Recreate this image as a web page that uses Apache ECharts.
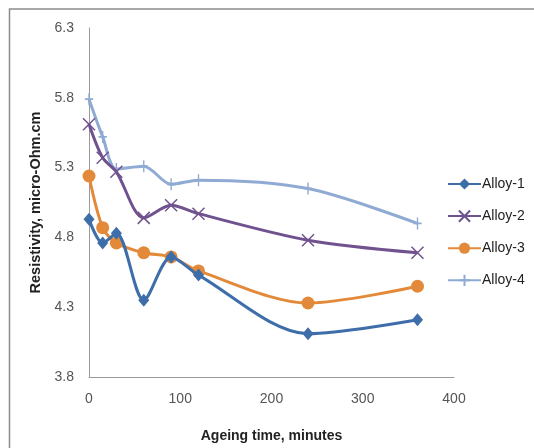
<!DOCTYPE html>
<html><head><meta charset="utf-8">
<script src="https://cdn.jsdelivr.net/npm/echarts@6/dist/echarts.min.js"></script>
<style>html,body{margin:0;padding:0;background:#fff}#c{width:534px;height:448px}</style>
</head><body><div id="c"></div>
<script>
var times = [0, 15, 30, 60, 90, 120, 240, 360];
var alloy1 = [4.93, 4.76, 4.83, 4.35, 4.66, 4.53, 4.11, 4.21];
var alloy2 = [5.61, 5.37, 5.27, 4.94, 5.03, 4.97, 4.78, 4.69];
var alloy3 = [5.24, 4.87, 4.76, 4.69, 4.66, 4.56, 4.33, 4.45];
var alloy4 = [5.79, 5.52, 5.29, 5.31, 5.18, 5.21, 5.15, 4.90];
var seriesNames = ['Alloy-1', 'Alloy-2', 'Alloy-3', 'Alloy-4'];
var yTicks = [3.8, 4.3, 4.8, 5.3, 5.8, 6.3];
var xTicks = [0, 100, 200, 300, 400];

function pairs(ys){ return times.map(function(t,i){ return [t, ys[i]]; }); }
var colors = ['#3E6EAA', '#70528F', '#E38A3A', '#8FAAD3'];
var symbols = ['diamond', 'path://M0,0L10,10M10,0L0,10', 'circle', 'path://M5,0L5,12M0,6L10,6'];
var symSizes = [[11,13], 12, 13, [10,12]];
var data = [alloy1, alloy2, alloy3, alloy4];

var chart = echarts.init(document.getElementById('c'));
chart.setOption({
  animation: false,
  backgroundColor: '#fff',
  graphic: [{type:'rect', shape:{x:9.5, y:9, width:700, height:700}, style:{fill:'none', stroke:'#8c8c8c', lineWidth:1.5}}],
  grid: {left: 89, top: 28, right: 80, bottom: 66},
  legend: {
    orient: 'vertical', left: 447, top: 177, padding: 0, itemGap: 17, itemWidth: 33, itemHeight: 14,
    textStyle: {fontFamily: 'Liberation Sans', fontSize: 14, color: '#222', padding:[0,0,0,-4]},
    data: seriesNames
  },
  xAxis: {
    type: 'value', min: 0, max: 400, interval: 100,
    name: 'Ageing time, minutes', nameLocation: 'middle', nameGap: 52,
    nameTextStyle: {fontFamily: 'Liberation Sans', fontSize: 14, fontWeight: 'bold', color: '#222'},
    axisLine: {lineStyle: {color: '#9a9a9a', width: 1}},
    axisTick: {show: false}, splitLine: {show: false},
    axisLabel: {fontFamily: 'Liberation Sans', fontSize: 14, color: '#555', margin: 15,
      formatter: function(v){ return xTicks.indexOf(v) >= 0 ? String(v) : ''; }}
  },
  yAxis: {
    type: 'value', min: 3.8, max: 6.3, interval: 0.5,
    name: 'Resistivity, micro-Ohm.cm', nameLocation: 'middle', nameGap: 41,
    nameTextStyle: {fontFamily: 'Liberation Sans', fontSize: 14.5, fontWeight: 'bold', color: '#222'},
    axisLine: {show: true, lineStyle: {color: '#9a9a9a', width: 1}},
    axisTick: {show: false}, splitLine: {show: false},
    axisLabel: {fontFamily: 'Liberation Sans', fontSize: 14, color: '#555', margin: 15,
      formatter: function(v){ var s = v.toFixed(1); return yTicks.map(function(t){return t.toFixed(1);}).indexOf(s) >= 0 ? s : ''; }}
  },
  series: data.map(function(d, i){
    return {
      name: seriesNames[i], type: 'line', smooth: 0.3, data: pairs(d),
      symbol: symbols[i], symbolSize: symSizes[i], symbolKeepAspect: true,
      lineStyle: {color: colors[i], width: 3},
      itemStyle: {color: (i === 1 || i === 3) ? 'none' : colors[i], borderColor: colors[i], borderWidth: (i === 1 || i === 3) ? 1.5 : 0},
      z: 10 - i
    };
  })
});
</script></body></html>
